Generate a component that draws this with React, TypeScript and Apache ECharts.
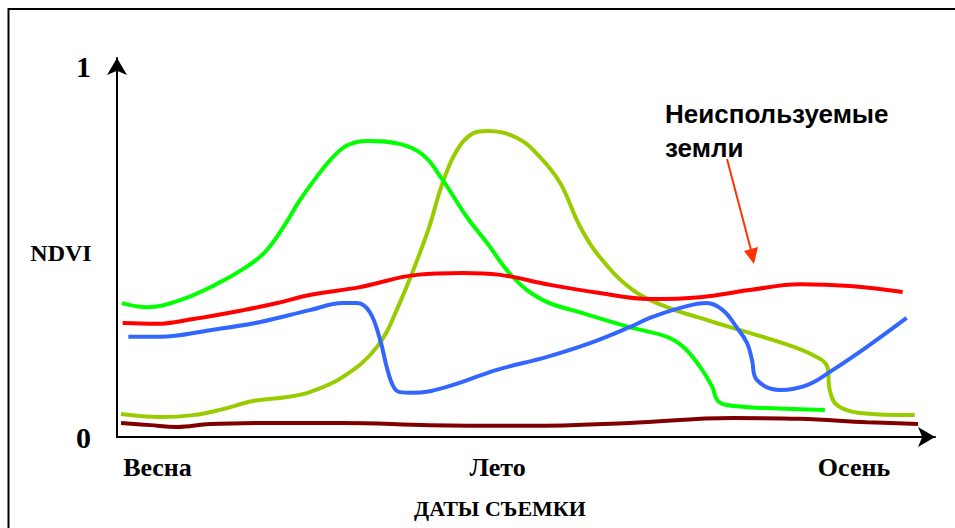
import React, { useEffect, useRef } from "react";
import * as echarts from "echarts";

// x: season progress (0..100), y: NDVI
const greenSeries: number[][] = [
  [0.6, 0.361], [3.7, 0.35], [7.8, 0.369], [12.1, 0.41], [15.8, 0.456], [18.3, 0.499],
  [20.7, 0.571], [22.6, 0.639], [25.1, 0.714], [26.7, 0.755], [28.5, 0.787], [30.9, 0.798],
  [34.9, 0.79], [37.8, 0.76], [40.2, 0.693], [43.2, 0.593], [45.7, 0.523], [48.9, 0.431],
  [52.6, 0.369], [57.5, 0.334], [63.3, 0.296], [67.9, 0.27], [69.9, 0.243], [72.0, 0.189],
  [73.5, 0.135], [74.1, 0.1], [75.3, 0.086], [80.2, 0.078], [87.4, 0.073],
];
const oliveSeries: number[][] = [
  [0.5, 0.062], [5.3, 0.054], [9.4, 0.059], [12.7, 0.073], [16.8, 0.097], [21.0, 0.108],
  [23.8, 0.121], [27.9, 0.162], [32.1, 0.243], [34.9, 0.361], [38.3, 0.55], [40.2, 0.685],
  [42.0, 0.774], [44.0, 0.819], [45.7, 0.825], [49.4, 0.806], [52.2, 0.755], [54.7, 0.685],
  [57.2, 0.566], [59.6, 0.485], [63.7, 0.396], [67.9, 0.35], [72.0, 0.321], [76.0, 0.294],
  [82.2, 0.253], [85.9, 0.221], [87.7, 0.189], [88.0, 0.127], [88.9, 0.086], [91.7, 0.065],
  [98.5, 0.059],
];
const redSeries: number[][] = [
  [0.7, 0.307], [4.9, 0.305], [9.4, 0.318], [15.6, 0.342], [19.8, 0.361], [23.8, 0.383],
  [30.0, 0.404], [37.0, 0.437], [42.7, 0.442], [47.3, 0.437], [53.5, 0.41], [59.6, 0.388],
  [65.8, 0.372], [72.0, 0.377], [78.1, 0.396], [84.3, 0.412], [90.5, 0.407], [97.0, 0.391],
];
const blueSeries: number[][] = [
  [1.4, 0.27], [5.3, 0.27], [11.5, 0.288], [17.7, 0.31], [23.8, 0.342], [27.9, 0.361],
  [29.6, 0.361], [31.2, 0.337], [32.5, 0.261], [33.3, 0.189], [34.1, 0.137], [34.9, 0.121],
  [36.5, 0.119], [40.7, 0.135], [46.9, 0.181], [53.1, 0.216], [58.4, 0.253], [63.3, 0.296],
  [65.8, 0.321], [69.9, 0.35], [72.8, 0.361], [74.8, 0.342], [76.5, 0.296], [77.8, 0.253],
  [78.4, 0.208], [79.0, 0.154], [81.9, 0.127], [85.2, 0.14], [88.4, 0.181], [92.6, 0.243],
  [97.5, 0.321],
];
const darkRedSeries: number[][] = [
  [0.5, 0.038], [4.1, 0.032], [7.4, 0.027], [11.5, 0.035], [19.8, 0.038], [27.9, 0.038],
  [38.6, 0.032], [51.0, 0.03], [63.3, 0.038], [76.0, 0.051], [84.3, 0.049], [92.6, 0.04],
  [98.9, 0.035],
];

const seasonLabels = ["Весна", "Лето", "Осень"];
const seasonPositions = [5.0, 47.0, 91.0];
const yTickValues = [0, 1];
const yTickLabels = ["0", "1"];

const serif = "'Liberation Serif', 'Times New Roman', serif";
const sans = "'Liberation Sans', Arial, sans-serif";

export default function App() {
  const ref = useRef<HTMLDivElement>(null);
  useEffect(() => {
    if (!ref.current) return;
    const chart = echarts.init(ref.current, undefined, { renderer: "svg" });
    const mk = (data: number[][], color: string) => ({
      type: "line",
      data,
      smooth: 0.4,
      showSymbol: false,
      symbol: "none",
      lineStyle: { color, width: 4 },
      z: 3,
    });
    chart.setOption({
      animation: false,
      backgroundColor: "#ffffff",
      grid: { left: 117, right: 20, top: 58, bottom: 91 },
      xAxis: {
        type: "value",
        min: 0,
        max: 101,
        splitLine: { show: false },
        axisTick: { show: false },
        axisLine: {
          onZero: false,
          symbol: ["none", "arrow"],
          symbolSize: [15, 17],
          lineStyle: { color: "#000", width: 2 },
        },
        axisLabel: {
          customValues: seasonPositions,
          formatter: (v: number) => {
            const i = seasonPositions.findIndex((p) => Math.abs(p - v) < 0.01);
            return i >= 0 ? seasonLabels[i] : "";
          },
          margin: 17,
          fontFamily: serif,
          fontWeight: "bold",
          fontSize: 26,
          color: "#000",
        },
      },
      yAxis: {
        type: "value",
        min: 0,
        max: 1.0216,
        splitLine: { show: false },
        axisTick: { show: false },
        axisLine: {
          show: true,
          symbol: ["none", "arrow"],
          symbolSize: [15, 17],
          lineStyle: { color: "#000", width: 2 },
        },
        axisLabel: {
          customValues: yTickValues,
          formatter: (v: number) => {
            const i = yTickValues.indexOf(v);
            return i >= 0 ? yTickLabels[i] : "";
          },
          margin: 26,
          padding: [8, 0, 0, 0],
          fontFamily: serif,
          fontWeight: "bold",
          fontSize: 30,
          color: "#000",
        },
      },
      series: [
        mk(darkRedSeries, "#800000"),
        mk(oliveSeries, "#99CC00"),
        mk(greenSeries, "#00FF00"),
        mk(redSeries, "#FF0000"),
        mk(blueSeries, "#3366FF"),
      ],
      graphic: [
        {
          type: "rect",
          shape: { x: 8.5, y: 9, width: 1000, height: 600 },
          style: { fill: "none", stroke: "#000", lineWidth: 2 },
          silent: true,
        },
        {
          type: "text",
          x: 61,
          y: 253,
          style: {
            text: "NDVI",
            fontFamily: serif,
            fontWeight: "bold",
            fontSize: 24,
            fill: "#000",
            align: "center",
            verticalAlign: "middle",
          },
        },
        {
          type: "text",
          x: 500,
          y: 508,
          style: {
            text: "ДАТЫ СЪЕМКИ",
            fontFamily: serif,
            fontWeight: "bold",
            fontSize: 22,
            fill: "#000",
            align: "center",
            verticalAlign: "middle",
          },
        },
        {
          type: "text",
          x: 665,
          y: 97,
          style: {
            text: "Неиспользуемые\nземли",
            fontFamily: sans,
            fontWeight: "bold",
            fontSize: 26,
            lineHeight: 34,
            fill: "#000",
            align: "left",
            verticalAlign: "top",
          },
        },
        {
          type: "line",
          shape: { x1: 727, y1: 159, x2: 751, y2: 250 },
          style: { stroke: "#FF3300", lineWidth: 2 },
        },
        {
          type: "polygon",
          shape: { points: [[754, 264], [744, 251], [758, 247]] },
          style: { fill: "#FF3300" },
        },
      ],
    });
    return () => chart.dispose();
  }, []);
  return (
    <div
      ref={ref}
      style={{ position: "fixed", left: 0, top: 0, width: 955, height: 528 }}
    />
  );
}
